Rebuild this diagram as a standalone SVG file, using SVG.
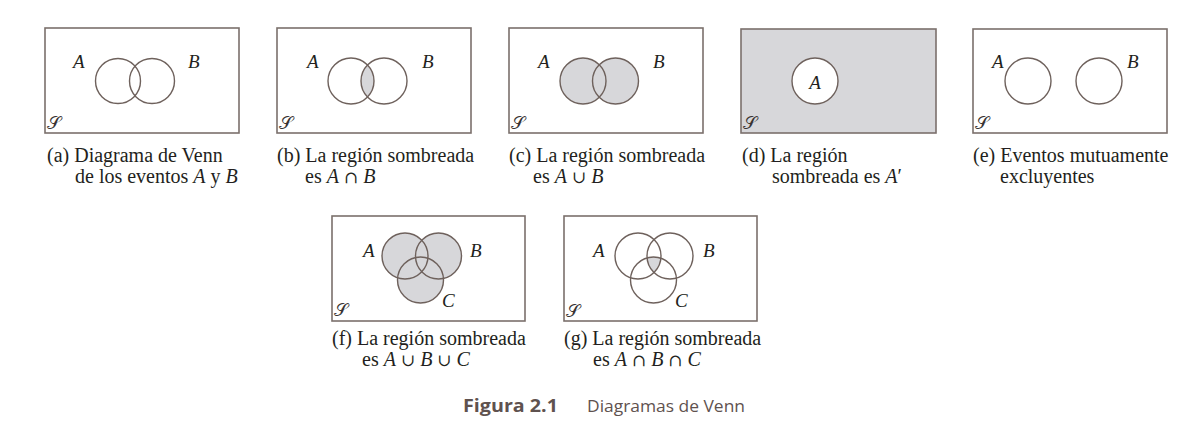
<svg xmlns="http://www.w3.org/2000/svg" width="1204" height="429" viewBox="0 0 1204 429">
<style>
.box{fill:#ffffff;stroke:#7b706c;stroke-width:1.6}
.boxg{fill:#d7d7da;stroke:#7b706c;stroke-width:1.6}
.c{fill:none;stroke:#6e615c;stroke-width:1.4}
.cf{fill:#d7d7da;stroke:none}
.cw{fill:#ffffff;stroke:#6e615c;stroke-width:1.4}
.sh{fill:#d7d7da}
.lbl{font-family:"Liberation Serif",serif;font-style:italic;font-size:19px;fill:#231f20}
.s{font-family:"DejaVu Sans","DejaVu Serif","Liberation Serif",serif;font-size:18px;fill:#3a3433}
.cap{font-family:"Liberation Serif",serif;font-size:20px;fill:#231f20}
.cap tspan.i{font-style:italic}
.cap tspan.o{font-family:"DejaVu Serif","Liberation Serif",serif;font-size:17px}
.fig{font-family:"Open Sans","Noto Sans",sans-serif;font-size:17px;fill:#5f524f}
</style>
<defs>
<clipPath id="clipBa"><circle cx="351" cy="81" r="23"/></clipPath>
<clipPath id="clipGa"><circle cx="638" cy="256" r="23"/></clipPath>
<clipPath id="clipGb"><circle cx="670" cy="256" r="23"/></clipPath>
</defs>

<g id="panel-a">
<rect class="box" x="45" y="28" width="194" height="105"/>
<circle class="c" cx="118" cy="81" r="22.5"/>
<circle class="c" cx="152" cy="81" r="22.5"/>
<text class="lbl" x="73" y="68">A</text>
<text class="lbl" x="188" y="68">B</text>
<text class="s" x="47" y="129">𝒮</text>
<text class="cap" x="47" y="162">(a) Diagrama de Venn</text>
<text class="cap" x="75" y="183">de los eventos <tspan class="i">A</tspan> y <tspan class="i">B</tspan></text>
</g>

<g id="panel-b">
<rect class="box" x="277" y="28" width="194" height="105"/>
<g clip-path="url(#clipBa)"><circle class="sh" cx="384" cy="81" r="23"/></g>
<circle class="c" cx="351" cy="81" r="23"/>
<circle class="c" cx="384" cy="81" r="23"/>
<text class="lbl" x="307" y="68">A</text>
<text class="lbl" x="422" y="68">B</text>
<text class="s" x="279" y="129">𝒮</text>
<text class="cap" x="277" y="162">(b) La región sombreada</text>
<text class="cap" x="305" y="183">es <tspan class="i">A</tspan> <tspan class="o">∩</tspan> <tspan class="i">B</tspan></text>
</g>

<g id="panel-c">
<rect class="box" x="509" y="28" width="194" height="105"/>
<circle class="cf" cx="583" cy="81" r="23"/>
<circle class="cf" cx="615.5" cy="81" r="23"/>
<circle class="c" cx="583" cy="81" r="23"/>
<circle class="c" cx="615.5" cy="81" r="23"/>
<text class="lbl" x="538" y="68">A</text>
<text class="lbl" x="653" y="68">B</text>
<text class="s" x="511" y="129">𝒮</text>
<text class="cap" x="509" y="162">(c) La región sombreada</text>
<text class="cap" x="533" y="183">es <tspan class="i">A</tspan> <tspan class="o">∪</tspan> <tspan class="i">B</tspan></text>
</g>

<g id="panel-d">
<rect class="boxg" x="741" y="29" width="195" height="104"/>
<circle class="cw" cx="815" cy="81" r="23"/>
<text class="lbl" x="815" y="89" text-anchor="middle">A</text>
<text class="s" x="743" y="129">𝒮</text>
<text class="cap" x="742" y="162">(d) La región</text>
<text class="cap" x="772" y="183">sombreada es <tspan class="i">A</tspan>′</text>
</g>

<g id="panel-e">
<rect class="box" x="973" y="29" width="194" height="104"/>
<circle class="c" cx="1028" cy="81" r="23"/>
<circle class="c" cx="1099" cy="81" r="23"/>
<text class="lbl" x="992" y="68">A</text>
<text class="lbl" x="1127" y="68">B</text>
<text class="s" x="975" y="129">𝒮</text>
<text class="cap" x="973" y="162">(e) Eventos mutuamente</text>
<text class="cap" x="1000" y="183">excluyentes</text>
</g>

<g id="panel-f">
<rect class="box" x="332" y="216" width="193" height="105"/>
<circle class="cf" cx="405" cy="256" r="23"/>
<circle class="cf" cx="438.5" cy="256" r="23"/>
<circle class="cf" cx="420.5" cy="280" r="23"/>
<circle class="c" cx="405" cy="256" r="23"/>
<circle class="c" cx="438.5" cy="256" r="23"/>
<circle class="c" cx="420.5" cy="280" r="23"/>
<text class="lbl" x="363" y="257">A</text>
<text class="lbl" x="470" y="257">B</text>
<text class="lbl" x="442" y="307">C</text>
<text class="s" x="334" y="316">𝒮</text>
<text class="cap" x="332" y="345">(f) La región sombreada</text>
<text class="cap" x="362" y="366">es <tspan class="i">A</tspan> <tspan class="o">∪</tspan> <tspan class="i">B</tspan> <tspan class="o">∪</tspan> <tspan class="i">C</tspan></text>
</g>

<g id="panel-g">
<rect class="box" x="564" y="216" width="193" height="105"/>
<g clip-path="url(#clipGa)"><g clip-path="url(#clipGb)"><circle class="sh" cx="653.5" cy="280" r="23"/></g></g>
<circle class="c" cx="638" cy="256" r="23"/>
<circle class="c" cx="670" cy="256" r="23"/>
<circle class="c" cx="653.5" cy="280" r="23"/>
<text class="lbl" x="593" y="257">A</text>
<text class="lbl" x="703" y="257">B</text>
<text class="lbl" x="675" y="307">C</text>
<text class="s" x="566" y="317">𝒮</text>
<text class="cap" x="564" y="345">(g) La región sombreada</text>
<text class="cap" x="593" y="366">es <tspan class="i">A</tspan> <tspan class="o">∩</tspan> <tspan class="i">B</tspan> <tspan class="o">∩</tspan> <tspan class="i">C</tspan></text>
</g>

<g id="caption">
<text class="fig" x="463" y="412" font-weight="bold" textLength="95" lengthAdjust="spacingAndGlyphs">Figura 2.1</text>
<text class="fig" x="587" y="412" textLength="158" lengthAdjust="spacingAndGlyphs">Diagramas de Venn</text>
</g>
</svg>
